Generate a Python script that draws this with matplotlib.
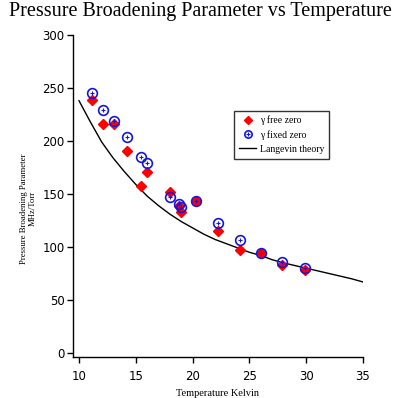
import numpy as np
import matplotlib.pyplot as plt
from matplotlib.legend_handler import HandlerTuple

# temperatures (K) and broadening parameter (MHz/Torr)
temp = [11.1, 12.1, 13.1, 14.25, 15.45, 16.0, 18.0, 18.8, 19.0, 20.3, 22.2, 24.2, 26.0, 27.9, 29.9]
gamma_free = [239, 216, 216, 191, 158, 171, 152, 139, 133, 143, 115, 97, 94, 83, 78]
gamma_fixed = [245, 229, 219, 204, 185, 179, 147, 141, 138, 143, 123, 107, 94, 86, 80]

# Langevin theory curve
theory_t = [10, 11, 12, 13, 14, 15, 16, 17, 18, 19, 20, 21, 22, 23, 24,
            25, 26, 27, 28, 29, 30, 31, 32, 33, 34, 35]
theory_g = [238, 218, 199, 184, 171, 159, 148, 139, 131, 124, 118, 112, 107, 103, 99,
            95, 92, 88, 85, 82.5, 80, 77.5, 75, 72.5, 70, 67]

fig = plt.figure(figsize=(4.0, 3.98), dpi=100)
ax = fig.add_axes([0.1825, 0.103, 0.725, 0.809])

serif = ['Liberation Serif', 'DejaVu Serif']
blue = '#1515e0'

line, = ax.plot(theory_t, theory_g, color='black', lw=1.0, zorder=1)
free, = ax.plot(temp, gamma_free, ls='none', marker='D', ms=5, color='red', mec='red', zorder=2)
fixed_ring, = ax.plot(temp, gamma_fixed, ls='none', marker='o', ms=7, mfc='none',
                      mec=blue, mew=1.2, zorder=3)
fixed_dot, = ax.plot(temp, gamma_fixed, ls='none', marker='+', ms=3, mec=blue,
                     mew=0.8, zorder=3)

ax.set_xlim(9.47, 35)
ax.set_ylim(-3.8, 300)
ax.set_xticks([10, 15, 20, 25, 30, 35])
ax.set_yticks([0, 50, 100, 150, 200, 250, 300])
for s in ['top', 'right']:
    ax.spines[s].set_visible(False)
for s in ['left', 'bottom']:
    ax.spines[s].set_linewidth(1.0)
ax.tick_params(direction='out', length=4, width=1, labelsize=8.5, pad=2)
ax.tick_params(axis='x', pad=5)

ax.set_xlabel('Temperature Kelvin', family=serif, fontsize=7.5, labelpad=5)
ax.set_ylabel('Pressure Broadening Parameter\nMHz/Torr', family=serif, fontsize=6.3,
              linespacing=1.2)
ax.yaxis.set_label_coords(-0.124, 0.46)

fig.suptitle('Pressure Broadening Parameter vs Temperature', family=serif, fontsize=14.5, y=0.995)

leg = ax.legend([free, (fixed_ring, fixed_dot), line],
                ['\u03b3 free zero', '\u03b3 fixed zero', 'Langevin theory'],
                handler_map={tuple: HandlerTuple(ndivide=1)},
                loc='upper left', bbox_to_anchor=(0.555, 0.765),
                prop={'family': serif, 'size': 7}, frameon=True, fancybox=False,
                edgecolor='black', handlelength=1.8, handletextpad=0.4,
                borderpad=0.5, labelspacing=0.5, markerscale=0.75,
                borderaxespad=0)
leg.get_frame().set_linewidth(1.0)

fig.savefig('out.png', dpi=100)
